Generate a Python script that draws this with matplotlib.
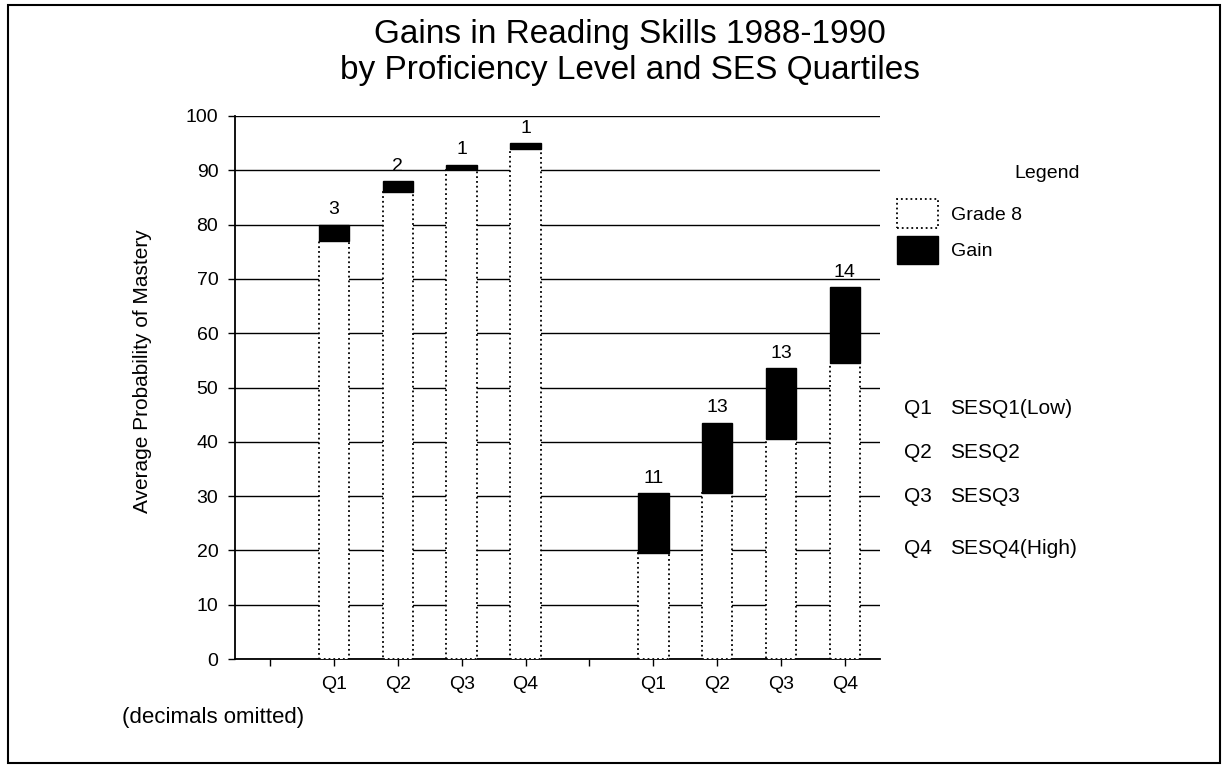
import matplotlib
matplotlib.use("Agg")
import matplotlib.pyplot as plt
from matplotlib.patches import Patch, Rectangle
import numpy as np

plt.rcParams['font.family'] = ['Liberation Sans', 'DejaVu Sans']

# data
quartiles = ['Q1', 'Q2', 'Q3', 'Q4']
grade8_group1 = [77, 86, 90, 94]
gain_group1 = [3, 2, 1, 1]
grade8_group2 = [19.5, 30.5, 40.5, 54.5]
gain_group2 = [11, 13, 13, 14]
ses_key = ['SESQ1(Low)', 'SESQ2', 'SESQ3', 'SESQ4(High)']

W, H = 1222, 766
fig = plt.figure(figsize=(W / 100, H / 100), dpi=100)
ax = fig.add_axes([235 / W, 1 - 659 / H, (880 - 235) / W, (659 - 116) / H])

# slot 0 and slot 5 are empty gaps
x1 = np.arange(1, 5)
x2 = np.arange(6, 10)
grade8 = grade8_group1 + grade8_group2
gain = gain_group1 + gain_group2
xs = np.concatenate([x1, x2])
bw = 0.48

ax.bar(xs, grade8, width=bw, color='white', edgecolor='black',
       linewidth=1.3, linestyle=':', zorder=3)
ax.bar(xs, gain, width=bw, bottom=grade8, color='black', edgecolor='black',
       linewidth=1, zorder=3)
for x, b, g in zip(xs, grade8, gain):
    ax.text(x, b + g + 1.2, str(g), ha='center', va='bottom', fontsize=14)

ax.set_xlim(-0.55, 9.55)
ax.set_ylim(0, 100)
ax.set_yticks(np.arange(0, 101, 10))
ax.set_xticks(np.arange(0, 10))
ax.set_xticklabels([''] + quartiles + [''] + quartiles)
ax.tick_params(axis='both', labelsize=14, length=5, width=1, colors='black')
ax.tick_params(axis='x', pad=7)
ax.tick_params(axis='y', pad=7)
ax.yaxis.grid(True, color='black', linewidth=1)
ax.set_axisbelow(True)
for s in ['top', 'right']:
    ax.spines[s].set_visible(False)
for s in ['left', 'bottom']:
    ax.spines[s].set_linewidth(1.3)
ax.set_ylabel('Average Probability of Mastery', fontsize=15)
ax.yaxis.set_label_coords(-0.128, 0.53)

fig.text(630 / W, 1 - 35 / H, 'Gains in Reading Skills 1988-1990',
         ha='center', va='center', fontsize=24)
fig.text(630 / W, 1 - 70 / H, 'by Proficiency Level and SES Quartiles',
         ha='center', va='center', fontsize=24)

# legend
fig.text(1047 / W, 1 - 173 / H, 'Legend', ha='center', va='center', fontsize=14)
handles = [Patch(facecolor='white', edgecolor='black', linestyle=':', linewidth=1.3),
           Patch(facecolor='black', edgecolor='black')]
fig.legend(handles, ['Grade 8', 'Gain'], loc='upper left',
           bbox_to_anchor=(897 / W, 1 - 199 / H), frameon=False, fontsize=14,
           handlelength=2.1, handleheight=1.9, handletextpad=0.7,
           labelspacing=0.4, borderaxespad=0, borderpad=0)

key_y = [408, 453, 497, 549]
for q, label, y in zip(quartiles, ses_key, key_y):
    fig.text(904 / W, 1 - y / H, q, ha='left', va='center', fontsize=15)
    fig.text(950 / W, 1 - y / H, label, ha='left', va='center', fontsize=15)

fig.text(122 / W, 1 - 717 / H, '(decimals omitted)', ha='left', va='center',
         fontsize=16)

fig.add_artist(Rectangle((8 / W, 3 / H), (1220 - 8) / W, (761 - 3) / H,
                         transform=fig.transFigure, fill=False,
                         edgecolor='black', linewidth=1.5))

fig.savefig('out.png', dpi=100)
